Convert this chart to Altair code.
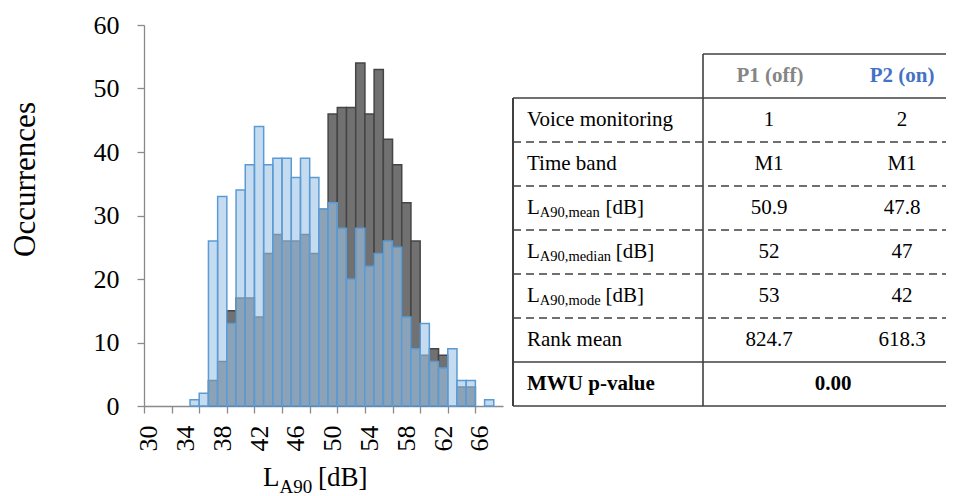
import altair as alt
import pandas as pd

# ---------------- data ----------------
levels = list(range(35, 68))
p1_counts = [0, 0, 4, 7, 15, 17, 17, 14, 24, 27, 26, 26, 27, 24, 31, 46, 47, 47, 54,
             46, 53, 42, 38, 32, 26, 8, 9, 8, 0, 3, 3, 0, 0]
p2_counts = [1, 2, 26, 33, 13, 34, 38, 44, 38, 39, 39, 36, 39, 36, 31, 32, 28, 20, 28,
             22, 24, 26, 25, 14, 9, 13, 7, 6, 9, 4, 4, 0, 1]
x_label_values = [30, 34, 38, 42, 46, 50, 54, 58, 62, 66]
y_tick_values = [0, 10, 20, 30, 40, 50, 60]
y_title = "Occurrences"
x_title_main, x_title_sub, x_title_tail = "L", "A90", "[dB]"

header_labels = ["P1 (off)", "P2 (on)"]
row_main = ["Voice monitoring", "Time band", "L", "L", "L", "Rank mean", "MWU p-value"]
row_sub = ["", "", "A90,mean", "A90,median", "A90,mode", "", ""]
row_tail = ["", "", "[dB]", "[dB]", "[dB]", "", ""]
p1_values = ["1", "M1", "50.9", "52", "53", "824.7"]
p2_values = ["2", "M1", "47.8", "47", "42", "618.3"]
mwu_value = "0.00"

# ---------------- layout / style ----------------
FONT = "Liberation Serif"
W, H = 359, 381
PAD = {"left": 136, "top": 17, "right": 443, "bottom": 94}
AX = "#8a8a8a"
LINE = "#404040"
n = len(row_main)

xscale = alt.Scale(domain=[29.5, 68.5], nice=False, zero=False)
yscale = alt.Scale(domain=[0, 60], nice=False, zero=True)

yaxis = alt.Axis(values=y_tick_values, title=y_title, titleFont=FONT, titleFontSize=31,
                 titleFontWeight="normal", titleColor="black", titleAngle=270,
                 titleAlign="center", titleBaseline="middle", titleX=-119, titleY=154,
                 labelFont=FONT, labelFontSize=26, labelColor="black", labelPadding=18,
                 tickSize=7, tickColor=AX, domainColor=AX, tickWidth=1.3, domainWidth=1.3,
                 grid=False)
xaxis_labels = alt.Axis(values=x_label_values, title=None, labelAngle=270, labelAlign="right",
                        labelBaseline="middle", labelFont=FONT, labelFontSize=26,
                        labelColor="black", labelPadding=19, ticks=False, domainColor=AX,
                        domainWidth=1.3, grid=False, orient="bottom")
xaxis_ticks = alt.Axis(values=[29.5 + 3 * k for k in range(13)], labels=False, ticks=True,
                       tickSize=7, tickColor=AX, tickWidth=1.3, domain=False, grid=False,
                       title=None, orient="bottom")

hist_df = pd.DataFrame({"level": levels, "p1": p1_counts, "p2": p2_counts})
base = alt.Chart(hist_df).transform_calculate(
    lo="datum.level - 0.5", hi="datum.level + 0.5", zero="0")

gray = base.transform_filter("datum.p1 > 0").mark_bar(
    fill="#717171", stroke="#454545", strokeWidth=1.5
).encode(
    x=alt.X("lo:Q", scale=xscale, axis=xaxis_labels), x2="hi:Q",
    y=alt.Y("p1:Q", scale=yscale, axis=yaxis), y2="zero:Q",
)
blue = base.transform_filter("datum.p2 > 0").mark_bar(
    fill="#9DC3E6", fillOpacity=0.6, stroke="#5B9BD5", strokeWidth=1.5
).encode(
    x=alt.X("lo:Q", scale=xscale, axis=None), x2="hi:Q",
    y=alt.Y("p2:Q", scale=yscale, axis=yaxis), y2="zero:Q",
)
ticks_layer = base.mark_tick(opacity=0).encode(
    x=alt.X("level:Q", scale=xscale, axis=xaxis_ticks)
)
hist = alt.layer(gray, blue, ticks_layer).resolve_axis(x="independent")


def free_text(txt, x, y, size, weight="normal", align="left"):
    return alt.Chart(pd.DataFrame({"t": [txt]})).mark_text(
        font=FONT, fontSize=size, fontWeight=weight, align=align,
        baseline="alphabetic", color="black"
    ).encode(text="t:N", x=alt.value(x), y=alt.value(y))


xtitle = alt.layer(
    free_text(x_title_main, 119, 461, 27),
    free_text(x_title_sub, 135.5, 467.5, 19),
    free_text(x_title_tail, 174, 461, 27),
)

# ---------------- table ----------------
ty = alt.Scale(domain=[-0.66, 8.0], reverse=True, nice=False, zero=False)
tx = alt.Scale(domain=[0, W], nice=False, zero=False)
TY = alt.Y("yc:Q", scale=ty, axis=None)
LX = 383
COL1, COL2, MERGED = 625, 758, 689
XL, XDIV, XR = 369, 559, 802

tbl = pd.DataFrame({
    "r": list(range(1, n + 1)), "main": row_main, "sub": row_sub, "tail": row_tail,
    "p1": p1_values + [""], "p2": p2_values + [""],
})
tbase = alt.Chart(tbl).transform_calculate(yc="datum.r + 0.5")


def ttext(chart, field, x, weight="normal", align="left", size=21, color="black", dy=0):
    return chart.mark_text(font=FONT, fontSize=size, fontWeight=weight, align=align,
                           baseline="middle", color=color, dy=dy).encode(
        text=f"{field}:N", x=x, y=TY)


main_reg = ttext(tbase.transform_filter(f"datum.r < {n}"), "main", alt.value(LX))
main_bold = ttext(tbase.transform_filter(f"datum.r == {n}"), "main", alt.value(LX), weight="bold")
sub_t = ttext(tbase.transform_filter("datum.sub != ''"), "sub", alt.value(LX + 12.8), size=14.5, dy=5)
tail_t = ttext(
    tbase.transform_filter("datum.sub != ''").transform_calculate(
        tx=f"{LX + 12.8} + 5.2 * length(datum.sub) + 24"),
    "tail", alt.X("tx:Q", scale=tx, axis=None))
p1_t = ttext(tbase.transform_filter("datum.p1 != ''"), "p1", alt.value(COL1), align="center")
p2_t = ttext(tbase.transform_filter("datum.p2 != ''"), "p2", alt.value(COL2), align="center")
mwu_t = tbase.transform_filter(f"datum.r == {n}").mark_text(
    font=FONT, fontSize=21, fontWeight="bold", align="center", baseline="middle", color="black"
).encode(text=alt.value(mwu_value), x=alt.value(MERGED), y=TY)

hdr = alt.Chart(pd.DataFrame({"h": header_labels, "i": [0, 1]})).transform_calculate(yc="0.5")
h1 = ttext(hdr.transform_filter("datum.i == 0"), "h", alt.value(COL1 + 1), weight="bold",
           align="center", color="#858585")
h2 = ttext(hdr.transform_filter("datum.i == 1"), "h", alt.value(COL2), weight="bold",
           align="center", color="#4472C4")

bdf = pd.DataFrame({"b": list(range(0, n + 2))})
bbase = alt.Chart(bdf)
solid = bbase.transform_filter(f"datum.b == 1 || datum.b == {n} || datum.b == {n + 1}").mark_rule(
    color=LINE, strokeWidth=1.6).encode(y=alt.Y("b:Q", scale=ty, axis=None),
                                        x=alt.value(XL), x2=alt.value(XR))
dashed = bbase.transform_filter(f"datum.b >= 2 && datum.b < {n}").mark_rule(
    color=LINE, strokeWidth=1.4, strokeDash=[8, 5]).encode(
    y=alt.Y("b:Q", scale=ty, axis=None), x=alt.value(XL), x2=alt.value(XR))
topline = bbase.transform_filter("datum.b == 0").mark_rule(color=LINE, strokeWidth=1.6).encode(
    y=alt.Y("b:Q", scale=ty, axis=None), x=alt.value(XDIV), x2=alt.value(XR))
vleft = bbase.transform_filter("datum.b == 1").transform_calculate(b2=str(n + 1)).mark_rule(
    color=LINE, strokeWidth=2).encode(
    y=alt.Y("b:Q", scale=ty, axis=None), y2="b2:Q", x=alt.value(XL))
vdiv = bbase.transform_filter("datum.b == 0").transform_calculate(b2=str(n + 1)).mark_rule(
    color=LINE, strokeWidth=1.6).encode(
    y=alt.Y("b:Q", scale=ty, axis=None), y2="b2:Q", x=alt.value(XDIV))

table = alt.layer(solid, dashed, topline, vleft, vdiv, h1, h2, main_reg, main_bold,
                  sub_t, tail_t, p1_t, p2_t, mwu_t)

chart = alt.layer(hist, table, xtitle).resolve_scale(x="independent", y="independent").properties(
    width=W, height=H, padding=PAD, autosize=alt.AutoSizeParams(type="none"),
    background="white",
).configure_view(stroke=None)

chart.save("out.html", embed_options={"renderer": "svg", "actions": False})
